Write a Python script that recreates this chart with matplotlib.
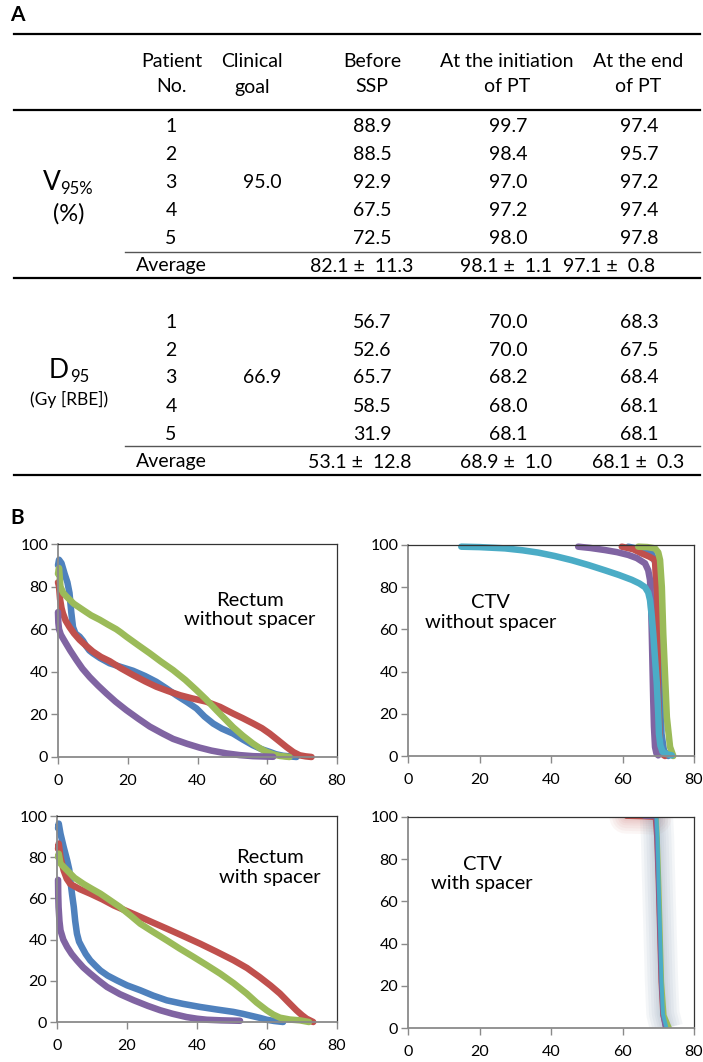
import matplotlib
matplotlib.use("Agg")
import matplotlib.pyplot as plt
from matplotlib.lines import Line2D

plt.rcParams['font.family'] = ['Lato', 'DejaVu Sans']

W, H = 703, 1062

# ---------------- Table data ----------------
col_headers = ["Patient\nNo.", "Clinical\ngoal", "Before\nSSP", "At the initiation\nof PT", "At the end\nof PT"]
patients = ["1", "2", "3", "4", "5"]
v95_goal = "95.0"
v95_before = ["88.9", "88.5", "92.9", "67.5", "72.5"]
v95_init = ["99.7", "98.4", "97.0", "97.2", "98.0"]
v95_end = ["97.4", "95.7", "97.2", "97.4", "97.8"]
v95_avg = ["82.1 \u00b1  11.3", "98.1 \u00b1  1.1", "97.1 \u00b1  0.8"]
d95_goal = "66.9"
d95_before = ["56.7", "52.6", "65.7", "58.5", "31.9"]
d95_init = ["70.0", "70.0", "68.2", "68.0", "68.1"]
d95_end = ["68.3", "67.5", "68.4", "68.1", "68.1"]
d95_avg = ["53.1 \u00b1  12.8", "68.9 \u00b1  1.0", "68.1 \u00b1  0.3"]

# ---------------- DVH data (dose Gy[RBE], volume %) ----------------
# Rectum without spacer
rw_blue_x = [0, 0.3, 1.0, 1.9, 2.7, 3.3, 3.8, 4.3, 5.0, 6.2, 7.2, 8.1, 9, 10, 12, 14.8, 18, 21.5, 25, 28.2, 31, 33.9, 37,
             39.7, 42, 44.5, 47, 50.2, 53, 55.9, 58.5, 60.7, 62.5, 64.5, 67, 68.4]
rw_blue_y = [90, 92.6, 91, 86, 82, 77, 68, 61, 58, 56.5, 54.5, 52, 50, 48.7, 46.5, 44, 42.3, 40.5, 38, 35.3, 32.3, 29,
             25.8, 22.8, 19, 15.7, 13.3, 11, 8.2, 5.5, 3.6, 2.4, 1.3, 0.6, 0.2, 0]
rw_red_x = [0, 0.3, 0.6, 1.0, 1.4, 2.2, 3.3, 4.6, 6.2, 8, 10, 12.3, 14.8, 18, 21.5, 25, 28.2, 31.5, 35, 38.5, 42.5,
            46.5, 50.2, 53, 56, 58.5, 60.7, 63, 65.5, 67.5, 69.3, 71, 72.7]
rw_red_y = [82, 80, 74, 70, 67.5, 64, 61, 58, 55, 52.3, 49.5, 47, 45, 41.7, 38.5, 35.5, 33, 31, 29, 27.5, 26,
            23.5, 20.4, 18.2, 15.7, 13.5, 11, 8, 4.7, 2.3, 0.8, 0.3, 0]
rw_green_x = [0, 0.3, 0.7, 1.5, 2.4, 4.5, 7.2, 9.5, 12, 14.5, 16.7, 18, 19.6, 23, 26.3, 29.5, 33, 36.5, 39.7, 42.5,
              45.4, 47.8, 50.2, 53, 55.9, 58, 59.8, 61.8, 63.6, 66.4]
rw_green_y = [86, 88.7, 80, 77, 75.4, 72, 69, 66.5, 64.4, 62, 60, 58.5, 56.5, 52.5, 48.7, 44.8, 40.8, 36.2, 31.4, 27,
              22, 18, 14, 10, 6.3, 4, 2.4, 1.2, 0.5, 0]
rw_purple_x = [0, 0.1, 0.3, 0.8, 1.5, 2.4, 3.5, 5.3, 7, 9.1, 11.5, 13.9, 16.5, 19.6, 23, 26.3, 30, 33, 37, 40.6, 44,
               48.3, 52, 55.9, 61.7]
rw_purple_y = [68, 63, 60, 57.5, 55.5, 53, 50, 45.5, 41.5, 37.5, 33.5, 29.8, 26, 22, 18, 14.3, 11, 8.5, 6.2, 4.4, 3,
               1.7, 0.9, 0.4, 0.1]

# Rectum with spacer
rs_blue_x = [0.3, 0.5, 1, 1.9, 2.9, 3.5, 3.8, 4.3, 4.8, 5.2, 5.7, 6.3, 7.1, 8.2, 9.5, 11, 12.4, 14.5, 17.1, 20, 23.8,
             27.5, 31.4, 36, 40.9, 45.5, 50.4, 53, 56, 58, 59.9, 62, 64.6]
rs_blue_y = [94, 96.3, 91.4, 85, 78.5, 74, 68.8, 62, 55.8, 49, 42.9, 39, 36.4, 33, 29.9, 27.3, 25, 22.5, 20.2, 17.8,
             15.4, 12.8, 10.5, 8.8, 7.3, 6.1, 4.9, 4, 2.8, 2, 1.1, 0.5, 0]
rs_red_x = [0.3, 0.5, 1, 1.9, 2.8, 3.8, 6.5, 9.5, 13, 16.2, 20, 23.8, 27.5, 31.4, 36, 40.9, 45.5, 50.4, 54.3, 57.9,
            61, 63.7, 66, 68.4, 70, 71.3, 73.2]
rs_red_y = [84, 86.6, 80, 73.6, 69.5, 67, 64.5, 62.3, 59.5, 56.6, 53.8, 51, 48.2, 45.3, 41.8, 38, 34.2, 30, 26.2, 21.8,
            17.7, 13.8, 9.8, 5.7, 3.3, 1.6, 0]
rs_green_x = [0.3, 0.5, 1, 2.9, 5, 7.6, 10, 12.4, 15, 18, 21, 23.8, 27.5, 31.4, 35, 39, 42.8, 46.6, 50.5, 54.2, 57,
              59.9, 61.8, 63.7, 66.5, 69.4, 72]
rs_green_y = [80, 81.7, 76.9, 73.6, 70, 67, 64.6, 62.3, 59.3, 55.8, 51.7, 47.7, 43.7, 39.6, 35.7, 31.6, 27.6, 23.5,
              18.8, 13.8, 9.5, 5.7, 3.6, 2.1, 1.2, 0.8, 0]
rs_purple_x = [0.3, 0.35, 0.45, 0.7, 1, 1.8, 2.9, 4.2, 5.7, 7.5, 9.5, 12, 14.3, 18, 22, 26, 29.5, 33, 37, 40, 42.8,
               47, 52.3]
rs_purple_y = [69, 62, 55.8, 49, 44.5, 40, 36.4, 33, 29.9, 26.5, 23.5, 20, 17, 13.5, 10.5, 7.8, 5.7, 4, 2.4, 1.6, 1.1,
               0.8, 0.6]

# CTV without spacer
cw_blue_x = [61.6, 65, 68.2, 69.6, 70.1, 70.5, 70.9, 71.6, 72.8]
cw_blue_y = [99.2, 98, 96, 89.7, 75, 58, 10.6, 2.5, 0]
cw_red_x = [59.8, 63, 65.4, 67.5, 69.1, 69.6, 70, 70.5, 71.2, 71.9]
cw_red_y = [99.2, 98, 96, 94.5, 92.9, 73.9, 26.4, 2.7, 0.8, 0]
cw_green_x = [64.4, 67, 69.1, 70, 70.5, 71, 71.4, 72.4, 73.3, 74.2]
cw_green_y = [99.2, 99, 98.4, 96.5, 92.9, 80, 58, 18.5, 4.3, 0]
cw_purple_x = [47.6, 51, 55.1, 58.5, 61.6, 64, 66.3, 67.2, 67.7, 68, 68.2, 68.4, 68.6, 68.8, 69.1, 69.5, 70]
cw_purple_y = [99.2, 98.6, 97.6, 96.6, 95.3, 93.8, 91.3, 88, 83.4, 72, 58, 42, 26.4, 14, 4.3, 1.2, 0.3]
cw_aqua_x = [14.9, 20, 27.1, 32, 36.4, 41, 45.8, 50.5, 55.1, 59, 62.6, 64.7, 66.3, 67.2, 67.7, 68.2, 68.6, 69.1, 69.6,
             70, 70.2, 70.6, 71.2, 72.5, 73.8]
cw_aqua_y = [99.2, 99, 98.4, 97.5, 96.4, 94.8, 92.8, 90.5, 88, 85.8, 83.5, 81.8, 80, 77.5, 73.9, 66, 58, 46, 34.3,
             20, 10.6, 5, 2, 0.8, 0.3]

# CTV with spacer
cs_blue_x = [69.3, 69.6, 70.0, 70.8, 71.3, 72.0]
cs_blue_y = [100, 90, 70, 22, 6, 0]
cs_red_x = [61, 66, 69.0, 69.4, 69.8, 70.6, 71.1, 72.0]
cs_red_y = [100, 99.8, 99.5, 90, 70, 22, 6, 0]
cs_green_x = [69.6, 69.9, 70.3, 71.1, 71.8, 73.3]
cs_green_y = [100, 90, 70, 22, 6, 0]
cs_purple_x = [66, 69.2, 69.5, 69.9, 70.7, 71.2, 71.8]
cs_purple_y = [100, 100, 90, 70, 22, 6, 0]
cs_aqua_x = [69.5, 69.8, 70.1, 70.9, 71.3, 72.3]
cs_aqua_y = [100, 90, 70.2, 22.7, 6.8, 0]

BLUE, RED, GREEN, PURPLE, AQUA = "#4F81BD", "#C0504D", "#9BBB59", "#8064A2", "#4BACC6"
GLOW = "#7890a8"

fig = plt.figure(figsize=(W / 100, H / 100), dpi=100)


def fx(px):
    return px / W


def fy(py):
    return 1 - py / H


def txt(px, py, s, size=14, ha='center', va='center', **kw):
    fig.text(fx(px), fy(py), s, fontsize=size, ha=ha, va=va, **kw)


def hline(py, x0, x1, lw=1.6, color='black'):
    fig.add_artist(Line2D([fx(x0), fx(x1)], [fy(py), fy(py)], lw=lw, color=color))


# ---------------- Panel A: table ----------------
txt(10, 15, "A", size=15, ha='left', weight='bold')
hline(34, 14, 700)
header_x = [172, 252, 372, 507, 638]
for hx, h in zip(header_x, col_headers):
    top, bottom = h.split("\n")
    txt(hx, 62, top)
    txt(hx, 87, bottom)
hline(110, 14, 700)

val_x = [372, 508, 639]
v_rows = [127, 155, 183, 211, 239]
for i, yy in enumerate(v_rows):
    txt(171, yy, patients[i])
    txt(val_x[0], yy, v95_before[i])
    txt(val_x[1], yy, v95_init[i])
    txt(val_x[2], yy, v95_end[i])
txt(262, v_rows[2], v95_goal)
txt(43, 183, "V", size=19, ha='left')
txt(60, 189, "95%", size=12, ha='left')
txt(69, 214, "(%)", size=17)
hline(252, 125, 700, lw=1.0, color='#555555')
txt(171, 266, "Average")
for xs, s in zip([310, 460, 563], v95_avg):
    txt(xs, 266, s, ha='left')
hline(278, 14, 700)

d_rows = [323, 351, 378, 406, 434]
for i, yy in enumerate(d_rows):
    txt(171, yy, patients[i])
    txt(val_x[0], yy, d95_before[i])
    txt(val_x[1], yy, d95_init[i])
    txt(val_x[2], yy, d95_end[i])
txt(262, d_rows[2], d95_goal)
txt(49, 370, "D", size=19, ha='left')
txt(70, 377, "95", size=12, ha='left')
txt(69, 399, "(Gy [RBE])", size=12.5)
hline(446, 125, 700, lw=1.0, color='#555555')
txt(171, 462, "Average")
for xs, s in zip([308, 460, 592], d95_avg):
    txt(xs, 462, s, ha='left')
hline(475, 14, 700)

# ---------------- Panel B: DVH plots ----------------
txt(10, 518, "B", size=15, ha='left', weight='bold')


def make_ax(l, r, t, b):
    ax = fig.add_axes([fx(l), fy(b), (r - l) / W, (b - t) / H])
    ax.set_xlim(0, 80)
    ax.set_ylim(0, 100)
    ax.set_xticks([0, 20, 40, 60, 80])
    ax.set_yticks([0, 20, 40, 60, 80, 100])
    for s in ['left', 'bottom']:
        ax.spines[s].set_color('#8a8a8a')
        ax.spines[s].set_linewidth(1.3)
    for s in ['top', 'right']:
        ax.spines[s].set_color('#333333')
        ax.spines[s].set_linewidth(0.9)
    ax.tick_params(axis='both', direction='out', length=5, width=1.0, color='#8a8a8a', labelsize=11.5)
    ax.tick_params(axis='x', pad=7)
    ax.tick_params(axis='y', pad=2)
    ax.set_facecolor('white')
    return ax


ax1 = make_ax(58, 337, 544, 757)
ax2 = make_ax(408, 694, 545, 756)
ax3 = make_ax(57, 337, 816, 1022)
ax4 = make_ax(408, 694, 817, 1028)

LW = 4.7
style = dict(lw=LW, solid_capstyle='round', solid_joinstyle='round', clip_on=False)
for x, y, c in [(rw_blue_x, rw_blue_y, BLUE), (rw_red_x, rw_red_y, RED),
                (rw_green_x, rw_green_y, GREEN), (rw_purple_x, rw_purple_y, PURPLE)]:
    ax1.plot(x, y, color=c, **style)
ax1.text(55, 69, "Rectum\nwithout spacer", fontsize=14.5, ha='center', va='center',
         multialignment='center', linespacing=1.15)

for x, y, c in [(cw_blue_x, cw_blue_y, BLUE), (cw_red_x, cw_red_y, RED),
                (cw_green_x, cw_green_y, GREEN), (cw_purple_x, cw_purple_y, PURPLE),
                (cw_aqua_x, cw_aqua_y, AQUA)]:
    ax2.plot(x, y, color=c, **style)
ax2.text(23, 68, "CTV\nwithout spacer", fontsize=14.5, ha='center', va='center',
         multialignment='center', linespacing=1.15)

for x, y, c in [(rs_blue_x, rs_blue_y, BLUE), (rs_red_x, rs_red_y, RED),
                (rs_green_x, rs_green_y, GREEN), (rs_purple_x, rs_purple_y, PURPLE)]:
    ax3.plot(x, y, color=c, **style)
ax3.text(60.9, 75, "Rectum\nwith spacer", fontsize=14.5, ha='center', va='center',
         multialignment='center', linespacing=1.15)

cs_series = [(cs_blue_x, cs_blue_y, BLUE), (cs_red_x, cs_red_y, RED),
             (cs_green_x, cs_green_y, GREEN), (cs_purple_x, cs_purple_y, PURPLE),
             (cs_aqua_x, cs_aqua_y, AQUA)]
# soft glow: red one only along the top plateau, blue-grey one along the drop
for glw in [24, 20, 16, 12, 9, 6]:
    ax4.plot(cs_red_x[:3], cs_red_y[:3], color=RED, lw=glw, alpha=0.05, solid_capstyle='round', clip_on=True)
for glw in [24, 20, 16, 12, 9, 6]:
    ax4.plot(cs_aqua_x, cs_aqua_y, color=GLOW, lw=glw, alpha=0.075, solid_capstyle='butt', clip_on=True)
for x, y, c in cs_series:
    ax4.plot(x, y, color=c, lw=2.8, solid_capstyle='round', clip_on=True)
ax4.text(20.7, 73, "CTV\nwith spacer", fontsize=14.5, ha='center', va='center',
         multialignment='center', linespacing=1.15)

fig.savefig("out.png", dpi=100)
